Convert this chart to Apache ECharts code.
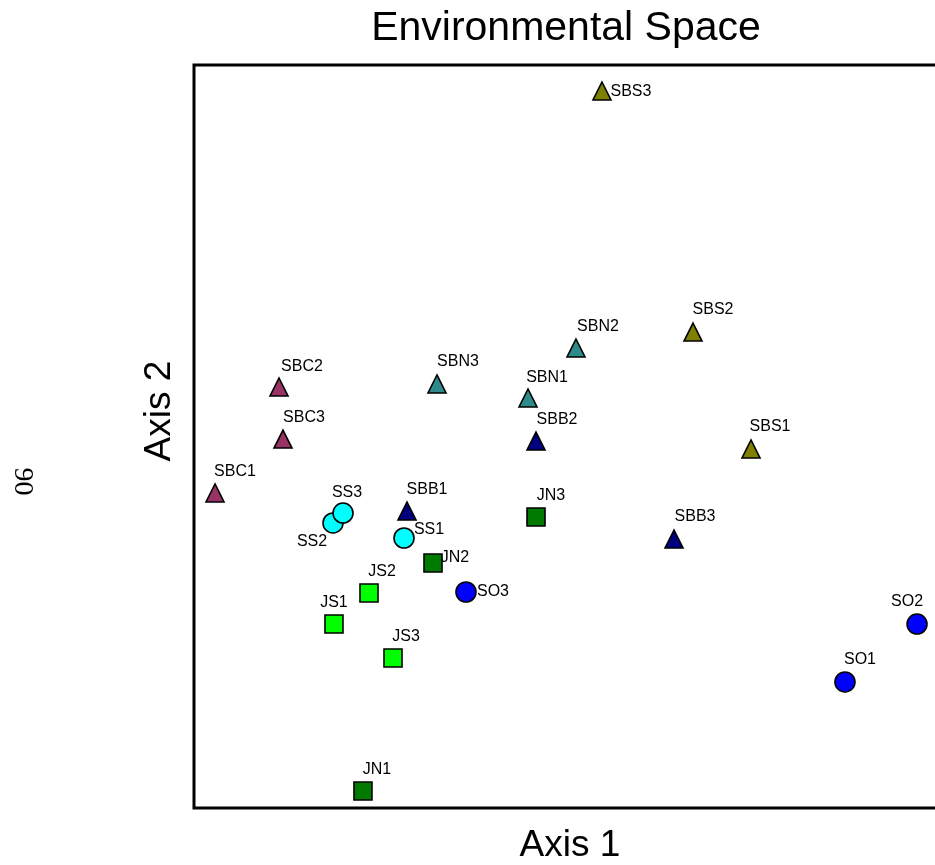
<!DOCTYPE html>
<html><head><meta charset="utf-8">
<script src="https://cdn.jsdelivr.net/npm/echarts@6/dist/echarts.min.js"></script>
<style>html,body{margin:0;padding:0;background:#fff}#c{width:935px;height:865px}</style>
</head><body><div id="c"></div>
<script>
// ---- data (ordination scores, arbitrary units 0-100) ----
const SBS_labels = ['SBS1', 'SBS2', 'SBS3'];
const SBS_axis1 = [73.97, 66.27, 54.18];
const SBS_axis2 = [48.32, 64.06, 96.5];

const SBN_labels = ['SBN1', 'SBN2', 'SBN3'];
const SBN_axis1 = [44.36, 50.73, 32.27];
const SBN_axis2 = [55.18, 61.91, 57.07];

const SBB_labels = ['SBB1', 'SBB2', 'SBB3'];
const SBB_axis1 = [28.29, 45.42, 63.75];
const SBB_axis2 = [39.97, 49.39, 36.20];

const SBC_labels = ['SBC1', 'SBC2', 'SBC3'];
const SBC_axis1 = [2.79, 11.29, 11.82];
const SBC_axis2 = [42.40, 56.66, 49.66];

const JN_labels = ['JN1', 'JN2', 'JN3'];
const JN_axis1 = [22.44, 31.74, 45.42];
const JN_axis2 = [2.29, 32.97, 39.17];

const JS_labels = ['JS1', 'JS2', 'JS3'];
const JS_axis1 = [18.59, 23.24, 26.43];
const JS_axis2 = [24.76, 28.94, 20.19];

const SS_labels = ['SS1', 'SS2', 'SS3'];
const SS_axis1 = [27.89, 18.46, 19.79];
const SS_axis2 = [36.34, 38.36, 39.70];

const SO_labels = ['SO1', 'SO2', 'SO3'];
const SO_axis1 = [86.45, 96.02, 36.12];
const SO_axis2 = [16.96, 24.76, 29.07];

// ---- label placement (pixels, relative to marker centre) ----
const labelOffset = {
  SBS1: [19, -22], SBS2: [20, -22], SBS3: [29, 1],
  SBN1: [19, -20], SBN2: [22, -21], SBN3: [21, -22],
  SBB1: [20, -21], SBB2: [21, -21], SBB3: [21, -22],
  SBC1: [20, -21], SBC2: [23, -20], SBC3: [21, -21],
  JN1: [14, -21], JN2: [22, -5], JN3: [15, -21],
  JS1: [0, -21], JS2: [13, -21], JS3: [13, -21],
  SS1: [25, -8], SS2: [-21, 19], SS3: [4, -20],
  SO1: [15, -22], SO2: [-10, -22], SO3: [27, 0]
};

function mk(name, labels, xs, ys, symbol, size, color) {
  return {
    type: 'scatter', name: name, symbol: symbol, symbolSize: size,
    itemStyle: { color: color, borderColor: '#000', borderWidth: 1.6, opacity: 1 },
    label: {
      show: true, position: 'inside', formatter: '{b}', color: '#000',
      fontSize: 16, fontFamily: 'Liberation Sans, Arial, sans-serif',
      align: 'center', verticalAlign: 'middle'
    },
    emphasis: { disabled: true },
    data: labels.map((l, i) => ({ name: l, value: [xs[i], ys[i]], label: { offset: labelOffset[l] } }))
  };
}

const chart = echarts.init(document.getElementById('c'), null, { renderer: 'canvas' });
chart.setOption({
  animation: false,
  backgroundColor: '#fff',
  grid: {
    left: 194, top: 65, width: 753, height: 743,
    outerBoundsMode: 'none',
    show: true, borderColor: '#000', borderWidth: 3, backgroundColor: 'transparent'
  },
  xAxis: { type: 'value', min: 0, max: 100, show: false },
  yAxis: { type: 'value', min: 0, max: 100, show: false },
  graphic: [
    { type: 'text', x: 566, y: 29, style: { text: 'Environmental Space', font: '41px "Liberation Sans", Arial, sans-serif', fill: '#000', textAlign: 'center', textVerticalAlign: 'middle' } },
    { type: 'text', x: 570, y: 846, style: { text: 'Axis 1', font: '37px "Liberation Sans", Arial, sans-serif', fill: '#000', textAlign: 'center', textVerticalAlign: 'middle' } },
    { type: 'text', x: 160, y: 411, rotation: Math.PI / 2, style: { text: 'Axis 2', font: '37px "Liberation Sans", Arial, sans-serif', fill: '#000', textAlign: 'center', textVerticalAlign: 'middle' } },
    { type: 'text', x: 22.5, y: 481.5, rotation: -Math.PI / 2, style: { text: '90', font: '28px "Liberation Serif", "Times New Roman", serif', fill: '#000', textAlign: 'center', textVerticalAlign: 'middle' } }
  ],
  series: [
    mk('SBS', SBS_labels, SBS_axis1, SBS_axis2, 'triangle', [18, 18], '#808000'),
    mk('SBN', SBN_labels, SBN_axis1, SBN_axis2, 'triangle', [18, 18], '#2E8B8B'),
    mk('SBB', SBB_labels, SBB_axis1, SBB_axis2, 'triangle', [18, 18], '#000080'),
    mk('SBC', SBC_labels, SBC_axis1, SBC_axis2, 'triangle', [18, 18], '#993366'),
    mk('JN', JN_labels, JN_axis1, JN_axis2, 'rect', [18, 18], '#007A00'),
    mk('JS', JS_labels, JS_axis1, JS_axis2, 'rect', [18, 18], '#00FF00'),
    mk('SS', SS_labels, SS_axis1, SS_axis2, 'circle', 20, '#00FFFF'),
    mk('SO', SO_labels, SO_axis1, SO_axis2, 'circle', 20, '#0000FF')
  ]
});
</script></body></html>
